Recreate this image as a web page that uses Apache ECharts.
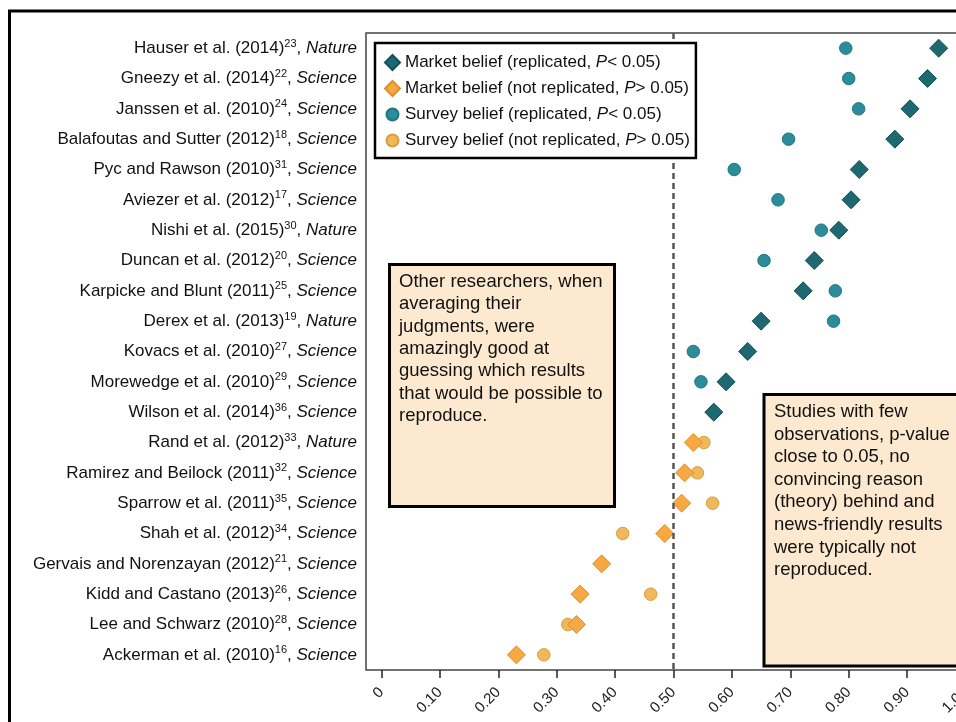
<!DOCTYPE html>
<html>
<head>
<meta charset="utf-8">
<script src="https://cdn.jsdelivr.net/npm/echarts@6/dist/echarts.min.js"></script>
<style>
  html, body { margin: 0; padding: 0; background: #fff; }
  #main { width: 956px; height: 722px; }
</style>
</head>
<body>
<div id="main"></div>
<script>
// Studies, top to bottom
const studies = [
  "Hauser et al. (2014)", "Gneezy et al. (2014)", "Janssen et al. (2010)",
  "Balafoutas and Sutter (2012)", "Pyc and Rawson (2010)", "Aviezer et al. (2012)",
  "Nishi et al. (2015)", "Duncan et al. (2012)", "Karpicke and Blunt (2011)",
  "Derex et al. (2013)", "Kovacs et al. (2010)", "Morewedge et al. (2010)",
  "Wilson et al. (2014)", "Rand et al. (2012)", "Ramirez and Beilock (2011)",
  "Sparrow et al. (2011)", "Shah et al. (2012)", "Gervais and Norenzayan (2012)",
  "Kidd and Castano (2013)", "Lee and Schwarz (2010)", "Ackerman et al. (2010)"
];
const refNumbers = [23, 22, 24, 18, 31, 17, 30, 20, 25, 19, 27, 29, 36, 33, 32, 35, 34, 21, 26, 28, 16];
const journals = [
  "Nature", "Science", "Science", "Science", "Science", "Science", "Nature",
  "Science", "Science", "Nature", "Science", "Science", "Science", "Nature",
  "Science", "Science", "Science", "Science", "Science", "Science", "Science"
];

// Final market prices and pre-market survey beliefs
const marketBelief = [0.954, 0.935, 0.905, 0.879, 0.818, 0.804, 0.783, 0.741, 0.722, 0.650, 0.627,
                      0.590, 0.569, 0.534, 0.519, 0.514, 0.485, 0.377, 0.340, 0.334, 0.231];
const surveyBelief = [0.795, 0.800, 0.817, 0.697, 0.604, 0.679, 0.753, 0.655, 0.777, 0.774, 0.534,
                      0.547, 0.569, 0.552, 0.541, 0.567, 0.413, 0.377, 0.461, 0.319, 0.278];
const replicated = [true, true, true, true, true, true, true, true, true, true, true, true, true,
                    false, false, false, false, false, false, false, false];

const seriesNames = [
  "Market belief (replicated, P< 0.05)",
  "Market belief (not replicated, P> 0.05)",
  "Survey belief (replicated, P< 0.05)",
  "Survey belief (not replicated, P> 0.05)"
];
const xTicks = [0, 0.1, 0.2, 0.3, 0.4, 0.5, 0.6, 0.7, 0.8, 0.9, 1.0];
const threshold = 0.5;

const noteLeft = [
  "Other researchers, when", "averaging their", "judgments, were", "amazingly good at",
  "guessing which results", "that would be possible to", "reproduce."
];
const noteRight = [
  "Studies with few", "observations, p-value", "close to 0.05, no", "convincing reason",
  "(theory) behind and", "news-friendly results", "were typically not", "reproduced."
];

const FONT = "'Liberation Sans', Arial, Helvetica, sans-serif";
// smaller round legend marker, padded inside a 15x15 box
const CIRCLE_ICON = 'path://M0,0M15,15M1.5,7.5A6,6,0,1,1,13.5,7.5A6,6,0,1,1,1.5,7.5Z';

function points(values, wantReplicated) {
  const out = [];
  values.forEach((v, i) => { if (replicated[i] === wantReplicated) out.push([v, i]); });
  return out;
}

const chart = echarts.init(document.getElementById('main'));

chart.setOption({
  animation: false,
  backgroundColor: '#fff',
  textStyle: { fontFamily: FONT },
  grid: {
    left: 366, top: 33, width: 615, height: 637,
    outerBoundsMode: 'none',
    containLabel: false,
    show: true, borderColor: '#444', borderWidth: 1.5, backgroundColor: 'transparent'
  },
  xAxis: {
    type: 'value',
    min: -0.0265, max: 1.0265,
    axisLine: { show: false },
    splitLine: { show: false },
    axisTick: { show: true, length: 8, lineStyle: { color: '#222', width: 1.5 }, customValues: xTicks },
    axisLabel: {
      customValues: xTicks, rotate: 45, margin: 20,
      fontSize: 15, color: '#222', fontFamily: FONT,
      formatter: v => (v === 0 ? '0' : v.toFixed(2))
    }
  },
  yAxis: {
    type: 'category',
    inverse: true,
    data: studies,
    axisLine: { show: false },
    axisTick: { show: false },
    splitLine: { show: false },
    axisLabel: {
      margin: 9, fontSize: 17, color: '#111', lineHeight: 20, fontFamily: FONT,
      formatter: (v, i) => v + '{sup|' + refNumbers[i] + '}, {it|' + journals[i] + '}',
      rich: {
        sup: { fontSize: 11, color: '#111', verticalAlign: 'top', lineHeight: 11, fontFamily: FONT },
        it: { fontSize: 17, fontStyle: 'italic', color: '#111', fontFamily: FONT }
      }
    }
  },
  legend: {
    z: 20,
    orient: 'vertical',
    left: 375, top: 43,
    padding: [11, 6, 9, 9],
    itemGap: 9,
    itemWidth: 15, itemHeight: 15,
    backgroundColor: '#fff',
    borderColor: '#000', borderWidth: 2.5,
    data: [
      { name: seriesNames[0], icon: 'diamond' },
      { name: seriesNames[1], icon: 'diamond' },
      { name: seriesNames[2], icon: CIRCLE_ICON },
      { name: seriesNames[3], icon: CIRCLE_ICON }
    ],
    textStyle: {
      fontSize: 17, color: '#111', fontFamily: FONT,
      rich: { it: { fontSize: 17, fontStyle: 'italic', color: '#111', fontFamily: FONT } }
    },
    formatter: n => n.replace(' P', ' {it|P}')
  },
  series: [
    {
      name: seriesNames[0], type: 'scatter', z: 4,
      symbol: 'diamond', symbolSize: 18,
      itemStyle: { color: '#1e6872', borderColor: '#15515a', borderWidth: 1, opacity: 1 },
      data: points(marketBelief, true)
    },
    {
      name: seriesNames[1], type: 'scatter', z: 4,
      symbol: 'diamond', symbolSize: 18,
      itemStyle: { color: '#f7a842', borderColor: '#db902c', borderWidth: 1, opacity: 1 },
      data: points(marketBelief, false)
    },
    {
      name: seriesNames[2], type: 'scatter', z: 3,
      symbol: 'circle', symbolSize: 12.5,
      itemStyle: { color: '#2b8d9a', borderColor: '#237581', borderWidth: 1, opacity: 1 },
      data: points(surveyBelief, true),
      markLine: {
        silent: true, symbol: ['none', 'none'],
        label: { show: false },
        lineStyle: { type: [6, 4], color: '#555', width: 2.5 },
        data: [{ xAxis: threshold }]
      }
    },
    {
      name: seriesNames[3], type: 'scatter', z: 3,
      symbol: 'circle', symbolSize: 12.5,
      itemStyle: { color: '#efb85a', borderColor: '#d79d3e', borderWidth: 1, opacity: 1 },
      data: points(surveyBelief, false)
    }
  ],
  graphic: [
    {
      type: 'rect', silent: true, z: 100,
      shape: { x: 9.5, y: 11, width: 1000, height: 800 },
      style: { fill: 'none', stroke: '#000', lineWidth: 3 }
    },
    {
      type: 'rect', silent: true, z: 50,
      shape: { x: 389.5, y: 264.5, width: 225, height: 242 },
      style: { fill: '#fde9cf', stroke: '#000', lineWidth: 3 }
    },
    {
      type: 'text', silent: true, z: 51, x: 399, y: 270.8,
      style: {
        text: noteLeft.join('\n'), fontSize: 18.5, fontFamily: FONT,
        fill: '#111', lineHeight: 22.3, verticalAlign: 'top'
      }
    },
    {
      type: 'rect', silent: true, z: 50,
      shape: { x: 764, y: 394.5, width: 260, height: 271.5 },
      style: { fill: '#fde9cf', stroke: '#000', lineWidth: 3 }
    },
    {
      type: 'text', silent: true, z: 51, x: 774, y: 400.7,
      style: {
        text: noteRight.join('\n'), fontSize: 18.5, fontFamily: FONT,
        fill: '#111', lineHeight: 22.6, verticalAlign: 'top'
      }
    }
  ]
});
</script>
</body>
</html>
